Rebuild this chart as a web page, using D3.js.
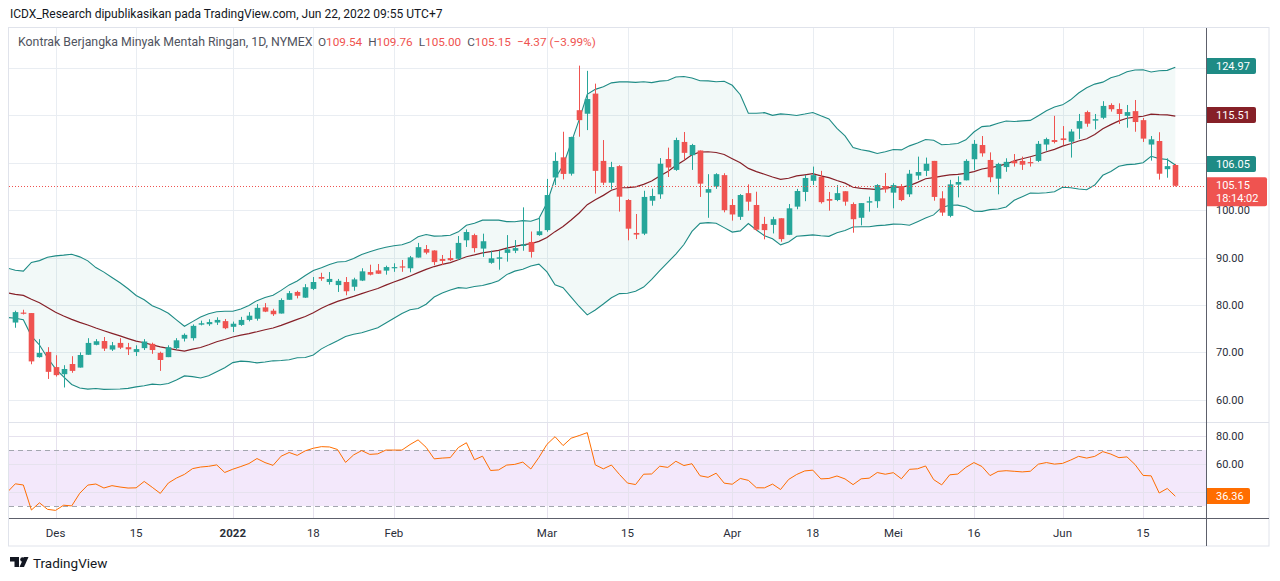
<!DOCTYPE html>
<html><head><meta charset="utf-8">
<script src="https://cdn.jsdelivr.net/npm/d3@7"></script>
<style>body{margin:0;background:#fff;} svg{display:block;font-family:Roboto,"Noto Sans",sans-serif;}</style>
</head><body><svg id="c" width="1280" height="581"></svg>
<script>
// ---- data ----
const dates = ["2021-11-23","2021-11-24","2021-11-26","2021-11-29","2021-11-30",
"2021-12-01","2021-12-02","2021-12-03","2021-12-06","2021-12-07","2021-12-08","2021-12-09","2021-12-10","2021-12-13","2021-12-14","2021-12-15","2021-12-16","2021-12-17","2021-12-20","2021-12-21","2021-12-22","2021-12-23","2021-12-27","2021-12-28","2021-12-29","2021-12-30","2021-12-31",
"2022-01-03","2022-01-04","2022-01-05","2022-01-06","2022-01-07","2022-01-10","2022-01-11","2022-01-12","2022-01-13","2022-01-14","2022-01-18","2022-01-19","2022-01-20","2022-01-21","2022-01-24","2022-01-25","2022-01-26","2022-01-27","2022-01-28","2022-01-31",
"2022-02-01","2022-02-02","2022-02-03","2022-02-04","2022-02-07","2022-02-08","2022-02-09","2022-02-10","2022-02-11","2022-02-14","2022-02-15","2022-02-16","2022-02-17","2022-02-18","2022-02-22","2022-02-23","2022-02-24","2022-02-25","2022-02-28",
"2022-03-01","2022-03-02","2022-03-03","2022-03-04","2022-03-07","2022-03-08","2022-03-09","2022-03-10","2022-03-11","2022-03-14","2022-03-15","2022-03-16","2022-03-17","2022-03-18","2022-03-21","2022-03-22","2022-03-23","2022-03-24","2022-03-25","2022-03-28","2022-03-29","2022-03-30","2022-03-31",
"2022-04-01","2022-04-04","2022-04-05","2022-04-06","2022-04-07","2022-04-08","2022-04-11","2022-04-12","2022-04-13","2022-04-14","2022-04-18","2022-04-19","2022-04-20","2022-04-21","2022-04-22","2022-04-25","2022-04-26","2022-04-27","2022-04-28","2022-04-29",
"2022-05-02","2022-05-03","2022-05-04","2022-05-05","2022-05-06","2022-05-09","2022-05-10","2022-05-11","2022-05-12","2022-05-13","2022-05-16","2022-05-17","2022-05-18","2022-05-19","2022-05-20","2022-05-23","2022-05-24","2022-05-25","2022-05-26","2022-05-27","2022-05-31",
"2022-06-01","2022-06-02","2022-06-03","2022-06-06","2022-06-07","2022-06-08","2022-06-09","2022-06-10","2022-06-13","2022-06-14","2022-06-15","2022-06-16","2022-06-17","2022-06-21","2022-06-22"];

const open = [76.3,78.4,78.3,69.0,70.1,
66.9,65.4,67.55,66.8,69.5,71.6,72.4,70.6,72.0,71.1,70.1,70.9,71.8,69.9,69.0,70.9,72.9,73.0,75.85,75.95,76.3,76.6,
75.4,75.8,76.85,77.1,79.5,78.8,78.2,81.1,82.75,81.55,83.4,85.9,84.85,84.2,84.85,83.85,85.15,86.95,87.3,87.25,
87.87,88.15,87.75,90.0,91.8,91.5,89.7,89.9,89.75,93.65,94.75,91.9,88.9,89.75,91.0,91.45,92.45,93.3,94.75,
95.8,106.9,111.15,107.7,121.1,120.35,124.6,110.4,105.8,109.3,102.15,95.2,95.05,102.0,103.35,110.8,108.5,114.4,111.6,112.6,103.7,105.0,107.4,
101.1,98.6,103.6,101.1,97.1,96.9,98.3,94.8,100.75,103.85,106.2,107.0,102.35,102.15,104.0,101.3,98.4,101.6,101.9,105.1,
103.7,105.1,103.35,107.3,108.3,110.4,102.5,98.8,105.4,106.3,110.75,113.75,110.6,106.65,109.1,110.4,110.4,110.15,110.4,113.85,114.8,
115.15,114.45,117.2,120.7,118.9,119.5,122.2,121.35,119.9,120.9,119.0,113.85,114.6,108.65,109.54];

const high = [78.8,79.0,78.3,72.8,71.1,
69.4,67.3,69.2,70.0,73.0,72.8,73.25,72.2,73.0,72.0,71.5,72.8,72.05,70.15,71.5,73.0,74.0,75.9,76.7,77.0,77.4,77.05,
76.5,77.5,78.5,80.2,80.4,79.2,81.4,82.95,83.0,84.4,85.9,86.8,86.95,85.5,85.9,85.75,87.75,88.5,88.65,88.3,
88.8,89.5,90.35,93.1,92.65,91.55,90.55,91.55,94.55,95.95,95.05,95.05,91.45,91.4,94.75,93.7,100.6,95.5,98.6,
106.6,112.2,116.55,115.5,130.5,129.4,126.7,114.8,110.2,109.5,102.35,99.2,104.1,104.55,111.0,113.2,115.3,116.5,114.0,112.6,107.6,107.8,107.8,
102.35,103.4,105.45,103.9,98.6,98.6,98.3,101.3,104.5,107.4,109.2,108.3,103.85,105.3,104.0,101.65,101.5,102.85,105.5,107.85,
105.7,105.5,108.5,111.3,111.1,110.4,104.0,106.4,107.15,110.75,114.8,115.65,112.2,110.0,110.95,111.85,111.3,111.15,114.6,115.3,119.9,
117.75,117.1,120.3,121.0,120.3,123.0,122.55,122.55,122.2,123.25,119.45,115.65,116.45,110.95,109.76];

const low = [75.2,78.0,67.5,68.9,64.4,
64.9,62.6,65.7,66.8,69.5,71.5,70.3,70.3,70.7,69.45,69.25,70.5,69.7,66.1,69.0,70.65,72.3,72.5,75.7,75.6,75.8,74.9,
74.3,75.6,76.55,76.7,78.5,77.7,78.2,81.1,81.4,81.5,83.15,85.1,84.3,82.75,82.05,83.0,85.05,86.25,86.55,86.4,
87.0,87.0,86.9,90.0,90.7,88.4,88.4,89.3,89.5,92.25,91.1,90.15,88.7,87.45,89.15,90.95,91.45,90.0,94.6,
95.45,105.3,106.5,107.3,115.5,116.9,103.5,105.3,104.4,99.7,93.65,93.9,94.75,100.95,102.4,107.0,108.3,110.6,108.5,102.8,98.4,104.5,99.55,
97.8,97.95,99.9,95.6,93.85,95.1,93.35,94.75,100.2,101.9,105.3,101.4,99.9,101.9,100.95,95.25,96.8,99.7,100.5,103.7,
100.4,101.9,102.8,106.4,107.2,102.0,98.8,98.5,102.7,106.3,108.5,111.3,105.9,103.35,108.1,109.2,108.5,109.2,110.15,112.55,114.1,
113.75,111.1,115.0,117.6,117.05,119.2,120.8,118.2,117.4,116.55,114.4,110.45,106.45,106.85,105.00];

const close = [78.5,78.2,68.1,69.9,65.9,
65.2,66.5,66.1,69.45,72.0,72.35,70.8,71.5,71.0,70.65,70.7,72.3,70.5,68.4,71.1,72.55,73.7,75.6,76.15,76.4,76.85,75.1,
76.05,76.85,77.75,79.4,78.6,78.05,81.05,82.5,81.95,83.75,84.85,85.55,85.5,85.1,82.9,85.4,87.1,86.4,86.6,88.0,
88.0,88.0,90.05,92.2,91.05,89.05,89.3,89.45,93.1,95.4,92.0,93.45,89.85,90.05,91.75,92.0,92.8,91.2,95.55,
103.2,110.4,107.65,115.45,119.0,123.45,108.3,105.8,109.1,102.85,96.1,94.85,102.8,103.0,109.8,109.0,114.8,112.1,113.75,105.6,104.45,107.6,100.0,
99.1,103.2,101.8,95.9,95.8,98.1,93.9,100.4,104.05,106.8,107.4,101.7,102.0,103.6,101.8,98.1,101.5,101.9,105.3,104.4,
105.3,102.15,107.7,108.05,109.8,102.8,99.5,105.45,105.95,110.4,114.0,112.0,106.95,109.75,110.2,109.9,109.6,109.95,114.0,115.0,114.4,
114.8,116.6,118.8,118.25,119.2,122.0,121.3,120.3,120.7,118.6,115.1,114.95,107.7,109.3,105.15];

// closes before the first visible bar (Sep 1 - Nov 22 2021), used only to warm up the indicators
const warmupCloses = [68.59,69.99,69.29,68.35,69.30,68.14,69.72,70.45,70.46,72.61,72.61,71.97,70.29,70.56,72.23,73.30,73.98,75.45,75.29,74.83,75.03,
75.88,77.62,78.93,77.43,78.30,79.35,80.52,80.64,80.44,81.31,82.28,82.44,82.96,83.87,82.50,83.76,83.76,84.65,82.66,82.81,83.57,
84.05,83.91,80.86,78.81,81.27,81.93,84.15,81.34,81.59,80.79,80.88,80.76,78.36,79.01,75.94,76.75];
const leadDate = "2021-11-22";

const timeTickDates = ["2021-12-01","2021-12-15","2022-01-03","2022-01-18","2022-02-01","2022-03-01","2022-03-15","2022-04-01","2022-04-18","2022-05-02","2022-05-16","2022-06-01","2022-06-15"];
const timeTickLabels = ["Des","15","2022","18","Feb","Mar","15","Apr","18","Mei","16","Jun","15"];
const priceTicks = [60,70,80,90,100,110,120,130];
const rsiTicks = [40,60,80];
const bbBadges = [124.97, 115.51, 106.05];   // upper, basis, lower (last values)
const lastPrice = 105.15, countdown = "18:14:02";
const rsiLast = 36.36;

// ---- layout ----
const L = 9, R = 1206, TOP = 28, MAINB = 422, RSIB = 518, FRAMEB = 546, FRAMER = 1269;
const svg = d3.select("#c");
const GREEN = "#26a69a", RED = "#ef5350", BANDC = "#1e8b85", BASISC = "#862028", RSIC = "#ff6d00";

const x = d3.scalePoint().domain([leadDate].concat(dates)).range([15.3 - 8.056, 1175.3]);
const yP = d3.scaleLinear().domain([60, 80]).range([399.8, 305]);
const yBB = d3.scaleLinear().domain([106.05, 124.97]).range([164, 66]);
const yR = d3.scaleLinear().domain([30, 70]).range([506, 450]);

// indicators
const allClose = warmupCloses.concat(close);
const off = warmupCloses.length;
const bb = [];
for (let i = off - 1; i < allClose.length; i++) {
  const w = allClose.slice(i - 19, i + 1);
  const m = d3.mean(w);
  const sd = Math.sqrt(d3.mean(w, v => (v - m) * (v - m)));
  bb.push({d: i === off - 1 ? leadDate : dates[i - off], u: m + 2 * sd, m: m, l: m - 2 * sd});
}
const rsi = [];
{
  let ag = 0, al = 0;
  for (let i = 1; i < allClose.length; i++) {
    const ch = allClose[i] - allClose[i - 1];
    const g = Math.max(ch, 0), lo = Math.max(-ch, 0);
    if (i <= 14) { ag += g / 14; al += lo / 14; }
    else { ag = (ag * 13 + g) / 14; al = (al * 13 + lo) / 14; }
    if (i >= off - 1) {
      const v = al === 0 ? 100 : 100 - 100 / (1 + ag / al);
      rsi.push({d: i === off - 1 ? leadDate : dates[i - off], v});
    }
  }
}

// ---- background / grid ----
const defs = svg.append("defs");
defs.append("clipPath").attr("id", "cm").append("rect").attr("x", L).attr("y", TOP).attr("width", R - L).attr("height", MAINB - TOP);
defs.append("clipPath").attr("id", "cr").append("rect").attr("x", L).attr("y", MAINB).attr("width", R - L).attr("height", RSIB - MAINB);
// price-scale area of the RSI pane, above the last-value badge
defs.append("clipPath").attr("id", "ca").append("rect").attr("x", R).attr("y", MAINB + 1).attr("width", FRAMER - R).attr("height", yR(rsiLast) - 9 - MAINB - 1);

const grid = svg.append("g").attr("stroke", "#e9edf2").attr("stroke-width", 1);
grid.selectAll("line.v").data(timeTickDates).join("line")
  .attr("x1", d => Math.round(x(d)) + 0.5).attr("x2", d => Math.round(x(d)) + 0.5).attr("y1", TOP).attr("y2", RSIB);
grid.selectAll("line.h").data(priceTicks).join("line").attr("class","h")
  .attr("x1", L).attr("x2", R).attr("y1", d => Math.round(yP(d)) + 0.5).attr("y2", d => Math.round(yP(d)) + 0.5)
  .attr("clip-path", "url(#cm)");

// RSI pane background band
const rp = svg.append("g").attr("clip-path", "url(#cr)");
rp.append("rect").attr("x", L).attr("width", R - L).attr("y", yR(70)).attr("height", yR(30) - yR(70)).attr("fill", "#f3e8fb");
rp.selectAll("line.rg").data(rsiTicks).join("line").attr("class","rg")
  .attr("x1", L).attr("x2", R).attr("y1", d => Math.round(yR(d)) + 0.5).attr("y2", d => Math.round(yR(d)) + 0.5)
  .attr("stroke", "#e6e2ee");
rp.selectAll("line.vr").data(timeTickDates).join("line").attr("class","vr")
  .attr("x1", d => Math.round(x(d)) + 0.5).attr("x2", d => Math.round(x(d)) + 0.5).attr("y1", MAINB).attr("y2", RSIB)
  .attr("stroke", "#e6e2ee");
rp.selectAll("line.db").data([70, 30]).join("line").attr("class","db")
  .attr("x1", L).attr("x2", R).attr("y1", d => Math.round(yR(d)) + 0.5).attr("y2", d => Math.round(yR(d)) + 0.5)
  .attr("stroke", "#a3a6af").attr("stroke-dasharray", "5,4");
rp.append("path").datum(rsi).attr("fill", "none").attr("stroke", RSIC).attr("stroke-width", 1)
  .attr("d", d3.line().x(d => x(d.d)).y(d => yR(d.v)));

// ---- main pane ----
const mp = svg.append("g").attr("clip-path", "url(#cm)");
mp.append("path").datum(bb).attr("fill", "rgba(38,150,140,0.06)")
  .attr("d", d3.area().x(d => x(d.d)).y0(d => yBB(d.l)).y1(d => yBB(d.u)));
mp.append("path").datum(bb).attr("fill", "none").attr("stroke", BANDC).attr("stroke-width", 1.1)
  .attr("d", d3.line().x(d => x(d.d)).y(d => yBB(d.u)));
mp.append("path").datum(bb).attr("fill", "none").attr("stroke", BANDC).attr("stroke-width", 1.1)
  .attr("d", d3.line().x(d => x(d.d)).y(d => yBB(d.l)));
mp.append("path").datum(bb).attr("fill", "none").attr("stroke", BASISC).attr("stroke-width", 1.2)
  .attr("d", d3.line().x(d => x(d.d)).y(d => yBB(d.m)));

// candles
const idx = d3.range(dates.length);
const col = i => close[i] >= open[i] ? GREEN : RED;
mp.selectAll("line.wick").data(idx).join("line").attr("class", "wick")
  .attr("x1", i => Math.round(x(dates[i])) + 0.5).attr("x2", i => Math.round(x(dates[i])) + 0.5)
  .attr("y1", i => yP(high[i])).attr("y2", i => yP(low[i])).attr("stroke", col).attr("stroke-width", 1);
mp.selectAll("rect.body").data(idx).join("rect").attr("class", "body")
  .attr("x", i => Math.round(x(dates[i])) + 0.5 - 2.8).attr("width", 5.6)
  .attr("y", i => yP(Math.max(open[i], close[i])))
  .attr("height", i => Math.max(1.2, Math.abs(yP(open[i]) - yP(close[i]))))
  .attr("fill", col);

// last price dotted line
svg.append("line").attr("x1", L).attr("x2", R).attr("y1", Math.round(yP(lastPrice)) + 0.5).attr("y2", Math.round(yP(lastPrice)) + 0.5)
  .attr("stroke", RED).attr("stroke-width", 1).attr("stroke-dasharray", "1,2");

// ---- frame & axes ----
svg.append("rect").attr("x", 8.5).attr("y", TOP - 0.5).attr("width", FRAMER - 8.5).attr("height", FRAMEB - TOP + 0.5)
  .attr("fill", "none").attr("stroke", "#e0e3eb");
svg.append("line").attr("x1", L).attr("x2", FRAMER).attr("y1", MAINB + 0.5).attr("y2", MAINB + 0.5).attr("stroke", "#e0e3eb");
svg.append("line").attr("x1", R + 0.5).attr("x2", R + 0.5).attr("y1", TOP).attr("y2", FRAMEB).attr("stroke", "#5d606b");
svg.append("line").attr("x1", L).attr("x2", FRAMER).attr("y1", RSIB + 0.5).attr("y2", RSIB + 0.5).attr("stroke", "#5d606b");

const axisText = svg.append("g").attr("font-size", 11).attr("fill", "#2a2e39");
axisText.selectAll("text.p").data(priceTicks).join("text").attr("class", "p")
  .attr("x", 1216).attr("y", d => yP(d) + 4).text(d => d.toFixed(2));
axisText.append("g").attr("clip-path", "url(#ca)")
  .selectAll("text.r").data(rsiTicks).join("text").attr("class", "r")
  .attr("x", 1216).attr("y", d => yR(d) + 4).text(d => d.toFixed(2));
axisText.selectAll("text.t").data(timeTickDates).join("text").attr("class", "t")
  .attr("x", d => x(d)).attr("y", 537).attr("text-anchor", "middle")
  .attr("font-size", 11.5)
  .attr("font-weight", (d, i) => timeTickLabels[i] === "2022" ? "bold" : "normal")
  .text((d, i) => timeTickLabels[i]);

// badges
function badge(y, h, w, color, lines) {
  const g = svg.append("g");
  g.append("path").attr("fill", color)
    .attr("d", `M${R + 1},${y} h${w - 2} a2,2 0 0 1 2,2 v${h - 4} a2,2 0 0 1 -2,2 h${-(w - 2)} z`);
  lines.forEach((t, k) => g.append("text").attr("x", 1216).attr("y", y + 12 + k * 13)
    .attr("font-size", 11).attr("fill", "#fff").text(t));
}
const bbColors = [BANDC, BASISC, BANDC];
bbBadges.forEach((v, k) => badge(yBB(v) - 8, 16, 49, bbColors[k], [v.toFixed(2)]));
badge(yP(lastPrice) - 8.5, 29, 60, RED, [lastPrice.toFixed(2), countdown]);
badge(yR(rsiLast) - 9, 16, 43, RSIC, [rsiLast.toFixed(2)]);

// ---- header texts ----
function fit(sel, w) {
  const cur = sel.node().getComputedTextLength();
  sel.attr("font-size", parseFloat(sel.attr("font-size")) * w / cur);
}
const hdr = svg.append("text").attr("x", 10).attr("y", 18).attr("font-size", 13).attr("fill", "#131722")
  .text("ICDX_Research dipublikasikan pada TradingView.com, Jun 22, 2022 09:55 UTC+7");
fit(hdr, 433);

const title = svg.append("text").attr("x", 18).attr("y", 46).attr("font-size", 12).attr("fill", "#50535e")
  .text("Kontrak Berjangka Minyak Mentah Ringan, 1D, NYMEX");
fit(title, 295);
const leg = svg.append("text").attr("x", 318).attr("y", 46).attr("font-size", 12).attr("fill", "#50535e");
const parts = [["O", "#50535e"], ["109.54", RED],
  ["\u2002H", "#50535e"], ["109.76", RED], ["\u2002L", "#50535e"], ["105.00", RED], ["\u2002C", "#50535e"], ["105.15", RED],
  ["\u2002\u22124.37 (\u22123.99%)", RED]];
parts.forEach(p => leg.append("tspan").attr("fill", p[1]).text(p[0]));
fit(leg, 278);

// TradingView logo
const logo = svg.append("g").attr("fill", "#131722");
logo.append("path").attr("d", "M10,557 h9 v10 h-4.5 v-5.5 h-4.5 z");
logo.append("circle").attr("cx", 22.5).attr("cy", 559.5).attr("r", 2.3);
logo.append("path").attr("d", "M19.5,567 l4.5,-10 h4.5 l-4.5,10 z");
svg.append("text").attr("x", 33).attr("y", 568).attr("font-size", 13.5).attr("fill", "#131722").text("TradingView");
</script></body></html>
